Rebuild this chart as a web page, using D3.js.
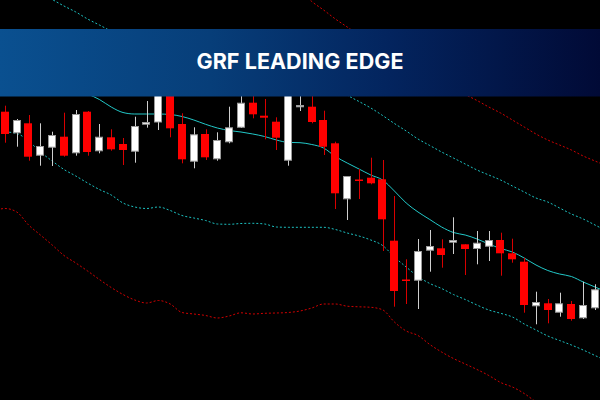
<!DOCTYPE html>
<html><head><meta charset="utf-8">
<script src="https://cdn.jsdelivr.net/npm/d3@7/dist/d3.min.js"></script>
<style>html,body{margin:0;padding:0;background:#000;}svg{display:block}</style>
</head><body><svg id="c" width="600" height="400"></svg>
<script>
const titleText = "GRF LEADING EDGE";

// OHLC per candle (index 0..50)
const openP  = [1.10883,1.10667,1.10767,1.10443,1.10523,1.10633,1.10467,1.10883,1.10487,1.10627,
                1.1056,1.10483,1.10753,1.10775,1.111,1.1076,1.10383,1.1066,1.10407,1.10577,
                1.10723,1.10973,1.10843,1.10783,1.10393,1.10927,1.10933,1.108,1.10567,1.10007,
                1.10205,1.10223,1.10207,1.09593,1.09205,1.09193,1.09493,1.09517,1.09573,1.09557,
                1.0951,1.09533,1.096,1.09467,1.09383,1.08937,1.08967,1.08873,1.0896,1.08817,1.08917];
const highP  = [1.10943,1.1081,1.1085,1.10767,1.10683,1.10873,1.109,1.1089,1.1076,1.10707,
                1.1062,1.10833,1.1099,1.1115,1.1115,1.10867,1.10727,1.10707,1.10677,1.10933,
                1.1108,1.1106,1.1101,1.10827,1.112,1.1106,1.1106,1.10893,1.10583,1.1024,
                1.1031,1.10423,1.104,1.1004,1.09407,1.0961,1.097,1.09607,1.09827,1.09557,
                1.0969,1.0969,1.09673,1.09613,1.09423,1.09083,1.0901,1.09073,1.0899,1.09183,1.09157];
const lowP   = [1.10573,1.10533,1.10393,1.10343,1.1034,1.10433,1.10443,1.10443,1.10467,1.10493,
                1.1035,1.10373,1.10723,1.107,1.10627,1.10367,1.10317,1.104,1.10393,1.10567,
                1.1072,1.10817,1.10607,1.105,1.10343,1.1089,1.10767,1.1045,1.0991,1.098,
                1.1001,1.10157,1.0949,1.08933,1.0896,1.0891,1.09283,1.09323,1.0946,1.0925,
                1.09357,1.0939,1.09243,1.09373,1.08873,1.08757,1.08767,1.08833,1.08793,1.0881,1.089];
const closeP = [1.1066,1.108,1.10433,1.1054,1.1065,1.10443,1.1086,1.1048,1.10633,1.10507,
                1.105,1.1074,1.1078,1.1108,1.10717,1.10407,1.10657,1.10427,1.106,1.10727,
                1.10973,1.10857,1.10823,1.10623,1.1115,1.1095,1.1078,1.10533,1.10067,1.1024,
                1.10195,1.10167,1.09807,1.0909,1.0919,1.0949,1.0954,1.0945,1.096,1.0951,
                1.09573,1.096,1.09467,1.09407,1.0895,1.0898,1.089,1.08967,1.0881,1.0895,1.09107];

// Band lines, index -1 .. 51
const bandFirstIndex = -1;
const midBand = [1.1136,1.1134,1.1132,1.1128,1.1124,1.1119,1.1115,1.1111,1.1106,1.11005,
                 1.1093,1.10875,1.1086,1.1086,1.1086,1.10855,1.10835,1.108,1.10757,1.1072,
                 1.10695,1.1068,1.1066,1.10635,1.106,1.10576,1.10573,1.10555,1.1052,1.10435,
                 1.1037,1.1031,1.1025,1.102,1.1009,1.0997,1.0988,1.09805,1.0973,1.09675,
                 1.0965,1.0961,1.0956,1.09515,1.0948,1.0942,1.0935,1.09295,1.0926,1.09235,
                 1.0918,1.0913,1.0908];
const upperInner = [1.1232,1.1226,1.12195,1.1213,1.1207,1.12005,1.1194,1.1188,1.1181,1.1175,
                 1.1169,1.1165,1.1163,1.1162,1.1162,1.1162,1.1162,1.1161,1.116,1.1158,
                 1.1156,1.1154,1.1152,1.1149,1.1146,1.1143,1.114,1.1134,1.1125,1.1114,
                 1.1105,1.10985,1.1092,1.10845,1.10765,1.1069,1.1061,1.10545,1.1048,1.1042,
                 1.1036,1.103,1.1025,1.102,1.1014,1.1008,1.1002,1.0998,1.0992,1.0986,
                 1.0981,1.0975,1.0969];
const lowerInner = [1.1068,1.1068,1.10665,1.1059,1.1048,1.1039,1.10305,1.1024,1.1017,1.10105,
                 1.1005,1.0997,1.0993,1.09915,1.0993,1.09895,1.09845,1.0982,1.09795,1.0976,
                 1.09757,1.09765,1.09767,1.0976,1.0973,1.09727,1.09727,1.09727,1.09727,1.09705,
                 1.0967,1.0964,1.096,1.09545,1.0943,1.0933,1.09235,1.09165,1.09115,1.09055,
                 1.09005,1.0895,1.089,1.08867,1.0883,1.0876,1.087,1.0864,1.08595,1.0855,
                 1.085,1.08445,1.0839];
const upperOuter = [1.1283,1.12765,1.1276,1.1281,1.1283,1.1283,1.12855,1.1285,1.1283,1.12805,
                 1.12735,1.12695,1.1272,1.1275,1.12725,1.1275,1.12795,1.1274,1.1267,1.1262,
                 1.1257,1.1253,1.125,1.1244,1.1235,1.1224,1.121,1.11985,1.119,1.1181,
                 1.1173,1.1165,1.1158,1.1151,1.1145,1.1138,1.1132,1.1125,1.1119,1.1112,
                 1.11055,1.10995,1.1093,1.1087,1.108,1.1073,1.1066,1.106,1.1055,1.105,
                 1.1044,1.1039,1.1034];
const lowerOuter = [1.0989,1.09915,1.0988,1.0975,1.0965,1.0955,1.09445,1.0937,1.0929,1.09205,
                 1.09125,1.09055,1.09,1.0897,1.08995,1.0896,1.08875,1.0886,1.08845,1.0882,
                 1.0884,1.08872,1.0886,1.08867,1.0887,1.08875,1.0889,1.0892,1.0896,1.0896,
                 1.08938,1.08932,1.08927,1.08902,1.0878,1.0869,1.08645,1.08555,1.0848,1.08415,
                 1.0836,1.08305,1.08245,1.08175,1.0813,1.08065,1.0798,1.079,1.0782,1.0774,
                 1.0766,1.0758,1.075];

const W = 600, H = 400;
const svg = d3.select("#c");
svg.append("rect").attr("width", W).attr("height", H).attr("fill", "#000");

const x = d3.scaleLinear().domain([0, 50]).range([5, 595]);
const y = d3.scaleLinear().domain([1.08, 1.12]).range([H, 0]);
const step = x(1) - x(0);
const bodyW = step * 0.7;

const defs = svg.append("defs");
defs.append("clipPath").attr("id", "plot").append("rect").attr("width", W).attr("height", H);
const g = svg.append("g").attr("clip-path", "url(#plot)");

const line = d3.line().x(d => x(d.i)).y(d => y(d.v)).curve(d3.curveMonotoneX);
function series(arr) { return arr.map((v, k) => ({ i: k + bandFirstIndex, v })); }

const bands = [
  { data: upperOuter, color: "#d00000", dash: "2,2" },
  { data: lowerOuter, color: "#d00000", dash: "2,2" },
  { data: upperInner, color: "#1cc0c0", dash: "2,2" },
  { data: lowerInner, color: "#1cc0c0", dash: "2,2" },
  { data: midBand, color: "#22c8c8", dash: null }
];
bands.forEach(b => {
  g.append("path").datum(series(b.data)).attr("d", line)
    .attr("fill", "none").attr("stroke", b.color).attr("stroke-width", 1)
    .attr("stroke-dasharray", b.dash);
});

const candles = openP.map((o, i) => ({ i, o, h: highP[i], l: lowP[i], c: closeP[i] }));
const cg = g.append("g");
candles.forEach(d => {
  const up = d.c >= d.o;
  const cx = Math.round(x(d.i)) + 0.5;
  cg.append("line").attr("x1", cx).attr("x2", cx)
    .attr("y1", y(d.h)).attr("y2", y(d.l))
    .attr("stroke", up ? "#cfcfcf" : "#d80000").attr("stroke-width", 1);
  const top = y(Math.max(d.o, d.c)), bot = y(Math.min(d.o, d.c));
  const hgt = Math.max(bot - top, 1.5);
  const x0 = Math.round(x(d.i) - bodyW / 2);
  if (up) {
    cg.append("rect").attr("x", x0 + 0.5).attr("y", top + 0.5)
      .attr("width", Math.round(bodyW) - 1).attr("height", Math.max(hgt - 1, 1))
      .attr("fill", "#ffffff").attr("stroke", "#9a9a9a").attr("stroke-width", 1);
  } else {
    cg.append("rect").attr("x", x0).attr("y", top)
      .attr("width", Math.round(bodyW)).attr("height", hgt)
      .attr("fill", "#ff0000");
  }
});

// Title banner
const grad = defs.append("linearGradient").attr("id", "bn").attr("x1", "0").attr("x2", "1").attr("y1", "0").attr("y2", "0");
[["0%", "#0a5090"], ["35%", "#073e79"], ["65%", "#03245e"], ["100%", "#010a36"]].forEach(s =>
  grad.append("stop").attr("offset", s[0]).attr("stop-color", s[1]));
svg.append("rect").attr("x", 0).attr("y", 29).attr("width", W).attr("height", 67.5).attr("fill", "url(#bn)");
const t = svg.append("text").attr("x", 300).attr("y", 69).attr("text-anchor", "middle")
  .attr("fill", "#ffffff").attr("font-family", "Inter, 'Open Sans', sans-serif")
  .attr("font-weight", 700).attr("font-size", 21.5).text(titleText);
const w0 = t.node().getComputedTextLength();
const ls = (207 - w0) / (titleText.length - 1);
t.attr("letter-spacing", ls).attr("x", 300 + ls / 2);
</script></body></html>
